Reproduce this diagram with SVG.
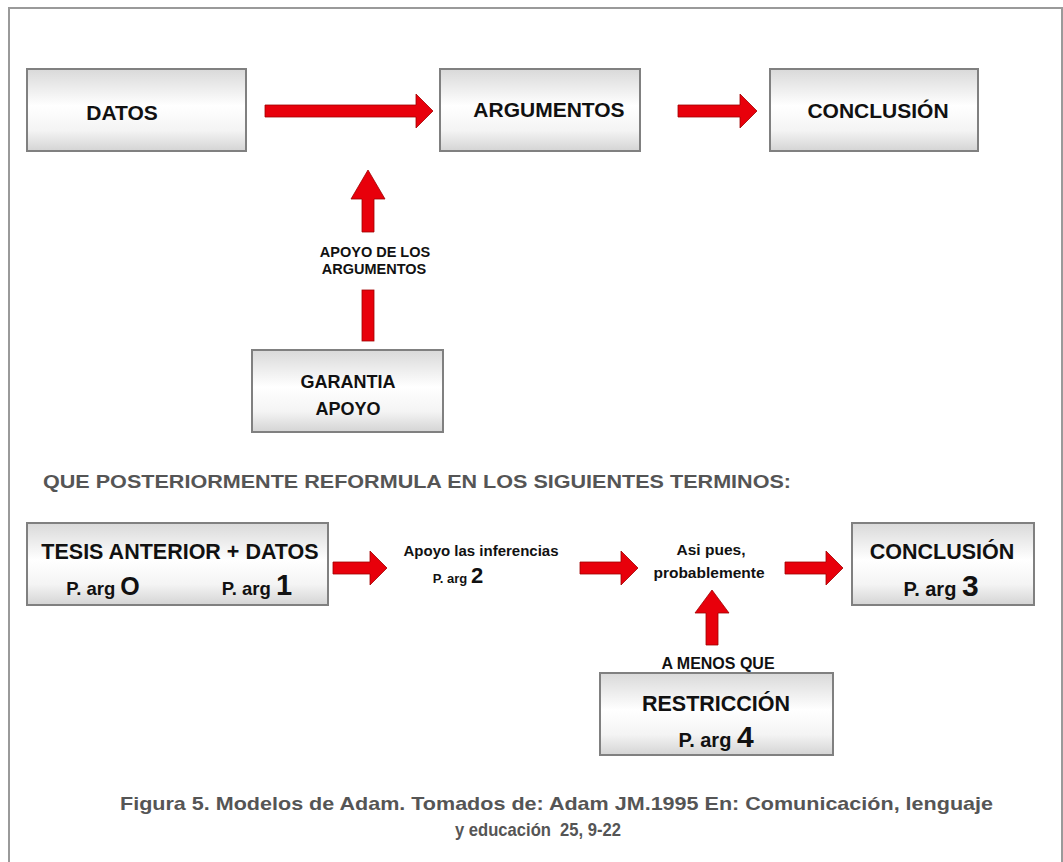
<svg xmlns="http://www.w3.org/2000/svg" width="1063" height="862" viewBox="0 0 1063 862">
<defs>
<linearGradient id="boxg" x1="0" y1="0" x2="0" y2="1">
<stop offset="0" stop-color="#d9d9d9"/>
<stop offset="0.45" stop-color="#ffffff"/>
<stop offset="0.75" stop-color="#f4f4f4"/>
<stop offset="1" stop-color="#d4d4d4"/>
</linearGradient>
</defs>
<style>
.box{fill:url(#boxg);stroke:#808080;stroke-width:2}
.t{font-family:"Liberation Sans",Arial,sans-serif;font-weight:bold;fill:#111;text-anchor:middle}
.big{font-size:21px}
.sm{font-size:14.5px}
.arr{fill:#e8000b;stroke:#a00000;stroke-width:0.8}
.gray{font-family:"Liberation Sans",Arial,sans-serif;font-weight:bold;fill:#555}
</style>
<rect x="0" y="0" width="1063" height="862" fill="#ffffff"/>
<path d="M9 870 V8 H1062 V870" fill="none" stroke="#9a9a9a" stroke-width="2"/>

<g id="connectors">
<polygon class="arr" points="265,105 416,105 416,94 433,111 416,128 416,117 265,117"/>
<polygon class="arr" points="678,105 740,105 740,94 757,111 740,128 740,117 678,117"/>
<polygon class="arr" points="362,232 362,199 351,199 368,170 385,199 374,199 374,232"/>
<rect class="arr" x="362" y="290" width="12" height="51"/>
<polygon class="arr" points="333,562 370,562 370,551 387,568 370,585 370,574 333,574"/>
<polygon class="arr" points="580,562 621,562 621,551 638,568 621,585 621,574 580,574"/>
<polygon class="arr" points="785,562 826,562 826,551 843,568 826,585 826,574 785,574"/>
<polygon class="arr" points="706,645 706,613 695,613 712,590 729,613 718,613 718,645"/>
</g>

<g id="datos">
<rect class="box" x="27" y="69" width="219" height="82"/>
<text class="t big" x="122" y="120">DATOS</text>
</g>
<g id="argumentos">
<rect class="box" x="440" y="69" width="200" height="82"/>
<text class="t big" x="549" y="117">ARGUMENTOS</text>
</g>
<g id="conclusion1">
<rect class="box" x="770" y="69" width="208" height="82"/>
<text class="t big" x="878" y="118">CONCLUSIÓN</text>
</g>
<g id="apoyo-label">
<text class="t sm" x="375" y="257">APOYO DE LOS</text>
<text class="t sm" x="374" y="274">ARGUMENTOS</text>
</g>
<g id="garantia">
<rect class="box" x="252" y="350" width="191" height="82"/>
<text class="t" x="348" y="388" font-size="18">GARANTIA</text>
<text class="t" x="348" y="415" font-size="18">APOYO</text>
</g>

<text class="gray" x="43" y="488" font-size="18.5" textLength="748" lengthAdjust="spacingAndGlyphs">QUE POSTERIORMENTE REFORMULA EN LOS SIGUIENTES TERMINOS:</text>

<g id="tesis">
<rect class="box" x="27" y="523" width="301" height="82"/>
<text class="t" x="180" y="559" font-size="21.5">TESIS ANTERIOR + DATOS</text>
<text class="t" x="103" y="595" font-size="18.5">P. arg <tspan font-size="25">O</tspan></text>
<text class="t" x="257" y="595" font-size="18.5">P. arg <tspan font-size="29">1</tspan></text>
</g>
<g id="inferencias">
<text class="t" x="481" y="556" font-size="15">Apoyo las inferencias</text>
<text class="t" x="458" y="583" font-size="13">P. arg <tspan font-size="22">2</tspan></text>
</g>
<g id="asipues">
<text class="t" x="711" y="555" font-size="15.5">Asi pues,</text>
<text class="t" x="709" y="578" font-size="15.5">probablemente</text>
</g>
<g id="conclusion2">
<rect class="box" x="852" y="523" width="182" height="82"/>
<text class="t" x="942" y="559" font-size="21.5">CONCLUSIÓN</text>
<text class="t" x="941" y="596" font-size="20">P. arg <tspan font-size="30">3</tspan></text>
</g>
<g id="amenos">
<text class="t" x="718" y="669" font-size="16">A MENOS QUE</text>
</g>
<g id="restriccion">
<rect class="box" x="600" y="673" width="233" height="82"/>
<text class="t" x="716" y="711" font-size="21.5">RESTRICCIÓN</text>
<text class="t" x="716" y="747" font-size="20">P. arg <tspan font-size="30">4</tspan></text>
</g>

<g id="caption">
<text class="gray" x="120" y="810" font-size="18.5" textLength="873" lengthAdjust="spacingAndGlyphs">Figura 5. Modelos de Adam. Tomados de: Adam JM.1995 En: Comunicación, lenguaje</text>
<text class="gray" x="455" y="836" font-size="18.5" textLength="166" lengthAdjust="spacingAndGlyphs" xml:space="preserve">y educación  25, 9-22</text>
</g>
</svg>
